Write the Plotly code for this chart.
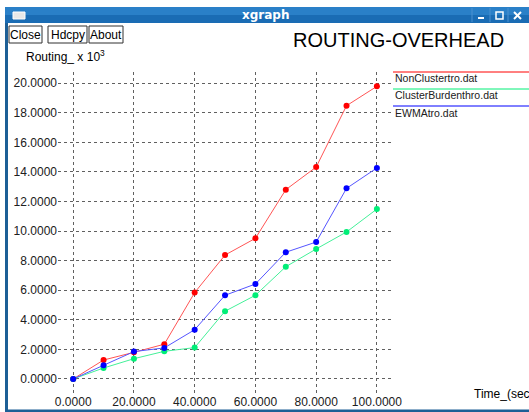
import plotly.graph_objects as go

W, H = 529, 412

# ---- data ----
x_vals = [0, 10, 20, 30, 40, 50, 60, 70, 80, 90, 100]
noncluster = [0.0, 1.28, 1.80, 2.35, 5.84, 8.38, 9.51, 12.80, 14.33, 18.48, 19.79]
clusterburden = [0.0, 0.74, 1.37, 1.87, 2.12, 4.58, 5.66, 7.59, 8.79, 9.94, 11.49]
ewma = [0.0, 0.93, 1.85, 2.10, 3.33, 5.66, 6.42, 8.57, 9.26, 12.89, 14.27]
series_names = ["NonClustertro.dat", "ClusterBurdenthro.dat", "EWMAtro.dat"]
series_colors = ["#ff0000", "#00ee77", "#0000ff"]
line_colors = ["#ff5555", "#44f099", "#5555ff"]
x_ticks = [0, 20, 40, 60, 80, 100]
y_ticks = [0, 2, 4, 6, 8, 10, 12, 14, 16, 18, 20]

FONT = "Liberation Sans, Arial, Helvetica, sans-serif"

def px(x):
    return x / W

def py(y):
    return 1 - y / H

fig = go.Figure()
for name, ys, mc, lc in zip(series_names, [noncluster, clusterburden, ewma], series_colors, line_colors):
    fig.add_trace(go.Scatter(
        x=x_vals, y=ys, mode="lines+markers", name=name,
        line=dict(color=lc, width=1),
        marker=dict(color=mc, size=6, symbol="circle"),
        showlegend=False, cliponaxis=False, hoverinfo="skip"))

shapes = []
annots = []

# window chrome: title bar
shapes.append(dict(type="rect", xref="paper", yref="paper", x0=px(5), x1=px(529), y0=py(23), y1=py(7),
                   fillcolor="#1a6cb4", line=dict(width=0), layer="below"))
shapes.append(dict(type="rect", xref="paper", yref="paper", x0=px(5), x1=px(529), y0=py(15), y1=py(7),
                   fillcolor="#2a80c8", line=dict(width=0), layer="below"))
# left and bottom border
shapes.append(dict(type="rect", xref="paper", yref="paper", x0=px(5), x1=px(8), y0=py(412), y1=py(23),
                   fillcolor="#1d5f96", line=dict(width=0), layer="below"))
shapes.append(dict(type="rect", xref="paper", yref="paper", x0=px(5), x1=px(529), y0=py(412), y1=py(409.5),
                   fillcolor="#1d5f96", line=dict(width=0), layer="below"))
# window icon
shapes.append(dict(type="rect", xref="paper", yref="paper", x0=px(13), x1=px(25), y0=py(19), y1=py(12),
                   fillcolor="#e8e8e8", line=dict(color="#ffffff", width=1)))
# title bar buttons
for bx in [472, 490, 508]:
    shapes.append(dict(type="line", xref="paper", yref="paper", x0=px(bx), x1=px(bx), y0=py(22), y1=py(8),
                       line=dict(color="#4a90d0", width=1)))
shapes.append(dict(type="line", xref="paper", yref="paper", x0=px(478), x1=px(484), y0=py(18), y1=py(18),
                   line=dict(color="white", width=2)))
shapes.append(dict(type="rect", xref="paper", yref="paper", x0=px(496), x1=px(503), y0=py(19), y1=py(12),
                   line=dict(color="white", width=1.5)))
shapes.append(dict(type="line", xref="paper", yref="paper", x0=px(514), x1=px(521), y0=py(19), y1=py(12),
                   line=dict(color="white", width=2)))
shapes.append(dict(type="line", xref="paper", yref="paper", x0=px(514), x1=px(521), y0=py(12), y1=py(19),
                   line=dict(color="white", width=2)))
annots.append(dict(text="<b>xgraph</b>", x=px(265), y=py(15), xref="paper", yref="paper",
                   showarrow=False, font=dict(family="DejaVu Sans", size=12, color="white"),
                   xanchor="center", yanchor="middle"))

# buttons Close / Hdcpy / About
for label, x0, x1 in [("Close", 9, 42), ("Hdcpy", 48, 87), ("About", 89, 123)]:
    shapes.append(dict(type="rect", xref="paper", yref="paper", x0=px(x0), x1=px(x1), y0=py(43), y1=py(26),
                       line=dict(color="#303030", width=1), fillcolor="white"))
    annots.append(dict(text=label, x=px((x0 + x1) / 2), y=py(34.5), xref="paper", yref="paper",
                       showarrow=False, font=dict(family=FONT, size=12, color="black"),
                       xanchor="center", yanchor="middle"))

# chart title
annots.append(dict(text="ROUTING-OVERHEAD", x=px(291), y=py(40), xref="paper", yref="paper",
                   showarrow=False, font=dict(family=FONT, size=20, color="black"),
                   xanchor="left", yanchor="middle"))
# y axis title
annots.append(dict(text="Routing_ x 10<sup>3</sup>", x=px(24), y=py(56), xref="paper", yref="paper",
                   showarrow=False, font=dict(family=FONT, size=12, color="black"),
                   xanchor="left", yanchor="middle"))
# x axis title
annots.append(dict(text="Time_(sec)", x=px(472), y=py(394), xref="paper", yref="paper",
                   showarrow=False, font=dict(family=FONT, size=12, color="black"),
                   xanchor="left", yanchor="middle"))

# legend
for i, (name, c) in enumerate(zip(series_names, series_colors)):
    ly = 72 + 17 * i
    shapes.append(dict(type="line", xref="paper", yref="paper", x0=px(393), x1=px(529), y0=py(ly), y1=py(ly),
                       line=dict(color=c, width=1)))
    annots.append(dict(text=name, x=px(393), y=py(ly + 6.5), xref="paper", yref="paper",
                       showarrow=False, font=dict(family=FONT, size=10.5, color="#202020"),
                       xanchor="left", yanchor="middle"))

fig.update_layout(
    width=W, height=H, autosize=False,
    margin=dict(l=0, r=0, t=0, b=0, pad=0),
    paper_bgcolor="white", plot_bgcolor="white",
    shapes=shapes, annotations=annots,
    hovermode=False,
    xaxis=dict(domain=[px(58), px(393)], range=[-5.0, 105.3], tickvals=x_ticks, tickformat=".4f",
               showgrid=True, gridcolor="#606060", griddash="dot", gridwidth=1,
               zeroline=False, showline=False, ticks="", automargin=False,
               tickfont=dict(family=FONT, size=12, color="#202020")),
    yaxis=dict(domain=[py(393), py(72)], range=[-0.95, 20.76], tickvals=y_ticks, tickformat=".4f",
               showgrid=True, gridcolor="#606060", griddash="dot", gridwidth=1,
               zeroline=False, showline=False, ticks="", automargin=False,
               tickfont=dict(family=FONT, size=12, color="#202020")),
)

fig.write_html("out.html", config={"displayModeBar": False, "staticPlot": True},
               post_script="document.body.style.margin='0';document.body.style.overflow='hidden';")
